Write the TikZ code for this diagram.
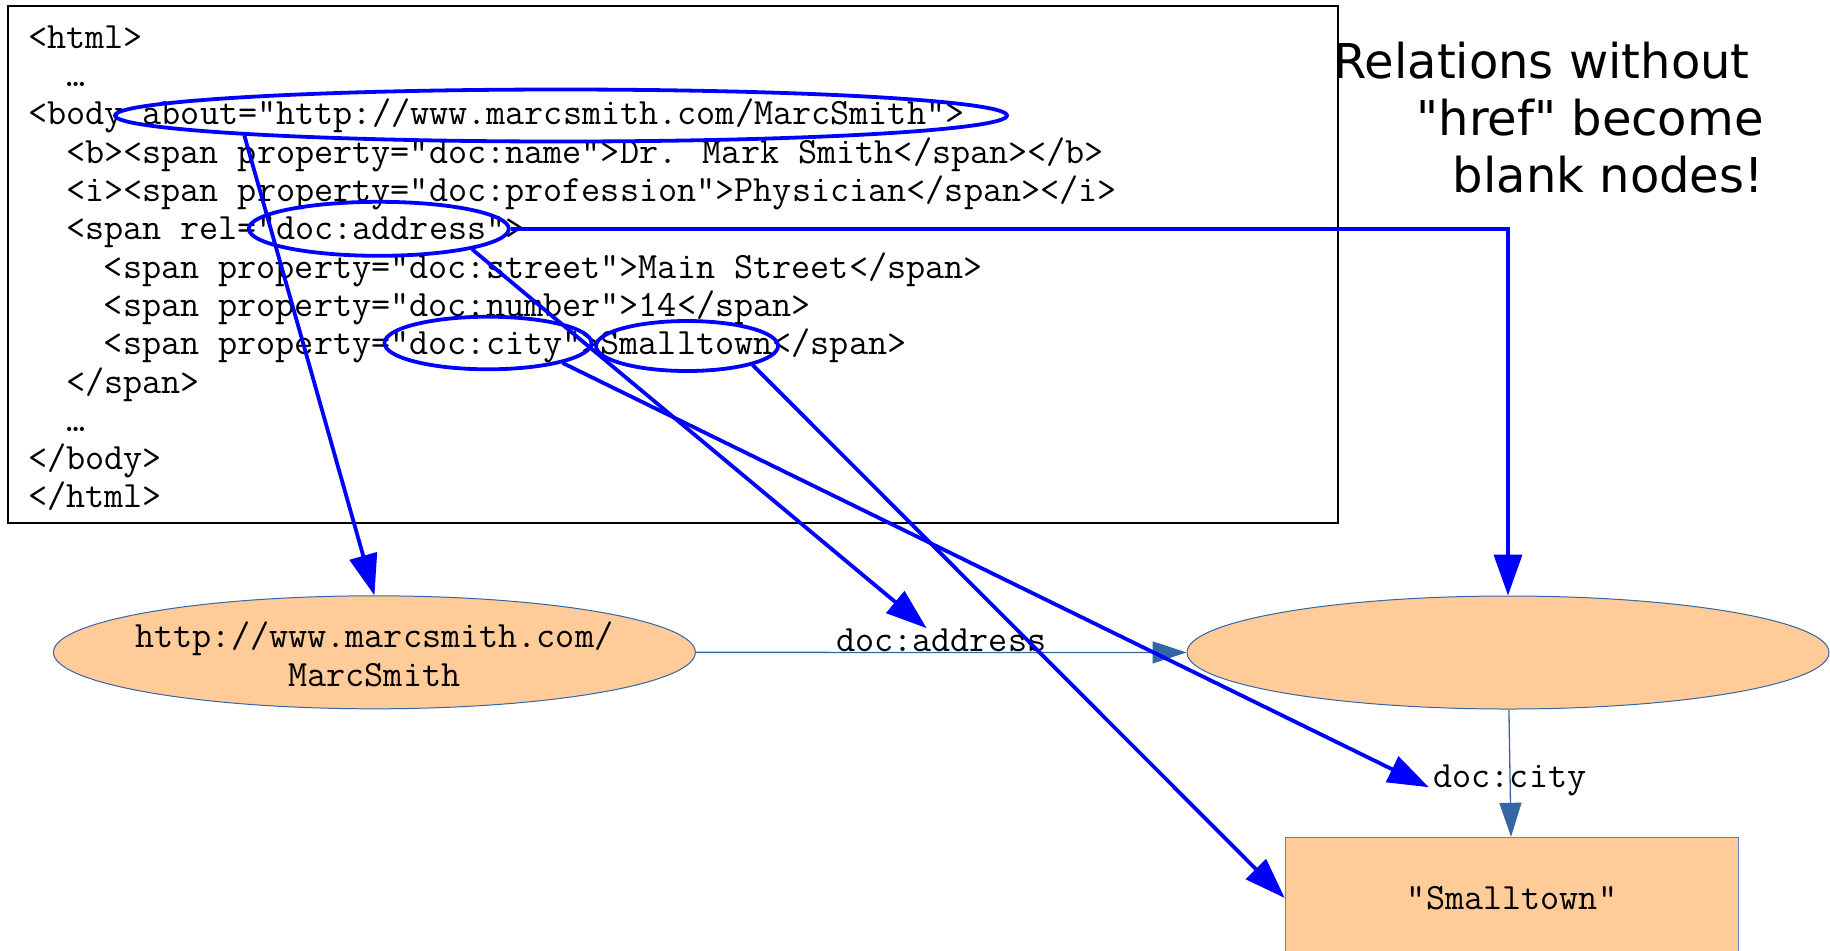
\documentclass[tikz,border=0pt]{standalone}
\usepackage{fontspec}
\setmainfont{DejaVu Sans}
\usetikzlibrary{arrows.meta,shapes.geometric,positioning}
\definecolor{nodefill}{RGB}{255,204,153}
\definecolor{reledge}{RGB}{52,101,164}
\newcommand{\codefont}{\ttfamily\fontsize{18.55}{19}\selectfont}

\begin{document}
\begin{tikzpicture}[x=0.5pt,y=-0.5pt,
    codeline/.style={anchor=base west,inner sep=0pt,font=\codefont},
    hilite/.style={ellipse,draw=blue,line width=1.9pt,inner sep=0pt},
    hilarrow/.style={draw=blue,line width=1.9pt,-{Triangle[length=20.5pt,width=14pt]}},
    res/.style={ellipse,fill=nodefill,draw=reledge,line width=0.5pt,inner sep=0pt,minimum width=321pt,minimum height=56.5pt,
      align=center,font=\ttfamily\fontsize{18.55}{19.25}\selectfont},
    rel/.style={draw=reledge,line width=0.65pt,-{Triangle[length=17pt,width=11pt]}},
    rellabel/.style={font=\codefont}]
    \useasboundingbox (0,0) rectangle (1830,950);

    % html source
    \draw[line width=0.6pt] (8,6) rectangle (1338,523);
    \node[codeline] (l1) at (27.7,48.3) {<html>};
    \node[codeline] (l2) at (65.6,86.6) {…};
    \node[codeline] (l3) at (27.7,124.9) {<body about="http://www.marcsmith.com/MarcSmith">};
    \node[codeline] (l4) at (65.6,163.2) {<b><span property="doc:name">Dr. Mark Smith</span></b>};
    \node[codeline] (l5) at (65.6,201.5) {<i><span property="doc:profession">Physician</span></i>};
    \node[codeline] (l6) at (65.6,239.8) {<span rel="doc:address">};
    \node[codeline] (l7) at (103.5,278.1) {<span property="doc:street">Main Street</span>};
    \node[codeline] (l8) at (103.5,316.4) {<span property="doc:number">14</span>};
    \node[codeline] (l9) at (103.5,354.7) {<span property="doc:city">Smalltown</span>};
    \node[codeline] (l10) at (65.6,393) {</span>};
    \node[codeline] (l11) at (65.6,431.3) {…};
    \node[codeline] (l12) at (27.7,469.6) {</body>};
    \node[codeline] (l13) at (27.7,507.9) {</html>};

    % circled parts
    \node[hilite,minimum width=446pt,minimum height=26pt] (habout) at (561,115.5) {};
    \node[hilite,minimum width=130pt,minimum height=27pt] (haddress) at (378.8,228.8) {};
    \node[hilite,minimum width=103.5pt,minimum height=26.3pt] (hcity) at (488,343) {};
    \node[hilite,minimum width=91pt,minimum height=25pt] (htown) at (687,346) {};

    \node[anchor=north east,align=right,inner sep=0pt,font=\fontsize{24}{28.5}\selectfont] (note) at (1764,42)
      {Relations without\kern7pt\\\textquotedbl href\textquotedbl{} become\\blank nodes!};

    % graph
    \node[res] (uri) at (374.4,652.3) {\rule{0pt}{15pt}\makebox[0pt]{http://www.marcsmith.com/}\\\makebox[0pt]{MarcSmith}};
    \node[res] (blank) at (1508,652.5) {};
    \node[fill=nodefill,draw=reledge!80,line width=0.5pt,minimum width=226.75pt,minimum height=60.7pt,
      font=\codefont] (town) at (1512,898) {"Smalltown"};

    \draw[rel] (uri) -- node[above,inner sep=0pt,rellabel] (laddress) {doc:address} (blank);
    \draw[rel] (blank) -- node[pos=0.5,yshift=-3.5pt,inner sep=2pt,rellabel] (lcity) {doc:city} (town);

    % mapping arrows
    \draw[hilarrow] (habout.south west) -- (uri.north);
    \draw[hilarrow] (haddress.east) -| (blank.north);
    \draw[hilarrow] (haddress.south east) -- (laddress);
    \draw[hilarrow] (hcity.south east) -- (lcity.base west);
    \draw[hilarrow] (htown.south east) -- (town.west);
\end{tikzpicture}
\end{document}
